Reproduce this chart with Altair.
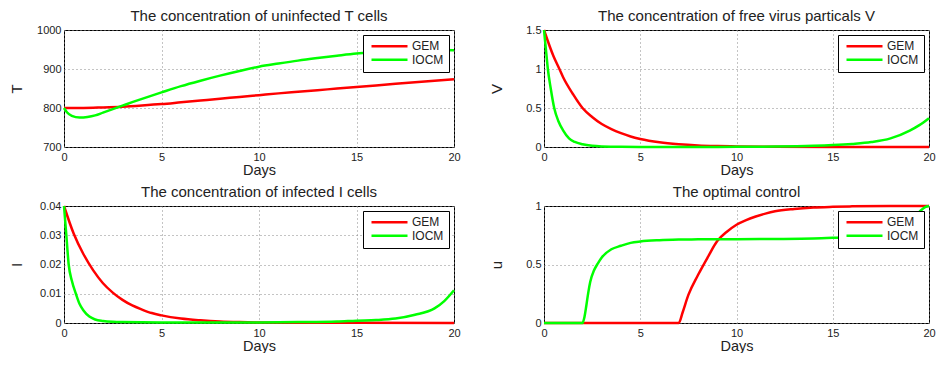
import altair as alt
import pandas as pd

FONT = "Liberation Sans"
DAY_TICKS = [0, 5, 10, 15, 20]
METHODS = ["GEM", "IOCM"]
COLORS = ["#ff0000", "#00ff00"]

# --- uninfected T cells ---
T_gem_t = [0, 1, 2, 3, 4, 5, 6, 7, 8, 9, 10, 11, 12, 13, 14, 15, 16, 17, 18, 19, 20]
T_gem = [800, 800, 801.5, 803.5, 806.5, 810, 814.5, 819, 823.5, 828.5, 833, 837.5, 841.5, 845.5, 850, 854, 858, 862, 866, 870, 874]
T_iocm_t = [0, 0.15, 0.4, 0.8, 1.2, 1.6, 2, 2.75, 3, 3.5, 4, 5, 6, 7, 8, 9, 10, 11, 12, 13, 14, 15, 16, 17, 18, 19, 20]
T_iocm = [800, 789, 780, 775.6, 777, 781, 788, 801.5, 806, 815, 823.5, 840, 856, 870, 883, 895, 906, 914, 921.5, 928, 934, 939.5, 943, 946, 948, 948.5, 948]

# --- free virus particles V ---
V_gem_t = [0, 0.5, 0.8, 1, 1.5, 2, 2.5, 3, 3.5, 4, 4.5, 5, 6, 7, 8, 9, 10, 12, 15, 20]
V_gem = [1.5, 1.16, 1.0, 0.89, 0.68, 0.5, 0.385, 0.295, 0.23, 0.178, 0.135, 0.103, 0.06, 0.035, 0.02, 0.012, 0.007, 0.0025, 0.0007, 0.0001]
V_iocm_t = [0, 0.1, 0.2, 0.35, 0.53, 0.75, 1, 1.3, 1.6, 2, 2.5, 3, 4, 6, 8, 10, 12, 14, 15, 16, 17, 18, 19, 19.5, 20]
V_iocm = [1.5, 1.25, 1.0, 0.75, 0.5, 0.33, 0.21, 0.11, 0.065, 0.035, 0.015, 0.007, 0.002, 0.001, 0.001, 0.002, 0.005, 0.015, 0.025, 0.04, 0.063, 0.11, 0.21, 0.28, 0.37]

# --- infected I cells ---
I_gem_t = [0, 0.5, 1, 1.5, 2, 2.5, 3, 3.5, 4, 4.5, 5, 6, 7, 8, 9, 10, 12, 15, 20]
I_gem = [0.04, 0.0305, 0.0235, 0.018, 0.0136, 0.0104, 0.0079, 0.006, 0.0046, 0.0034, 0.0026, 0.0015, 0.0009, 0.0005, 0.0003, 0.0002, 0.0001, 0.00005, 0]
I_iocm_t = [0, 0.12, 0.24, 0.4, 0.61, 0.8, 1, 1.3, 1.6, 2, 2.5, 3, 5, 10, 12, 14, 15, 16, 17, 18, 19, 19.5, 20]
I_iocm = [0.04, 0.03, 0.02, 0.0145, 0.01, 0.0065, 0.0043, 0.0022, 0.0012, 0.0007, 0.0004, 0.0003, 0.0002, 0.0002, 0.0003, 0.0005, 0.0008, 0.001, 0.0015, 0.0028, 0.005, 0.0075, 0.0112]

# --- optimal control u ---
u_gem_t = [0, 7, 7.2, 7.5, 8, 8.5, 9, 9.5, 10, 10.5, 11, 11.5, 12, 13, 14, 15, 16, 18, 20]
u_gem = [0, 0, 0.09, 0.24, 0.41, 0.56, 0.70, 0.78, 0.84, 0.88, 0.91, 0.935, 0.955, 0.975, 0.987, 0.993, 0.997, 1.0, 1.0]
u_iocm_t = [0, 2.0, 2.1, 2.2, 2.3, 2.4, 2.6, 2.8, 3, 3.5, 4, 4.5, 5, 6, 7, 8, 10, 12, 14, 15, 16, 17, 18, 18.5, 19, 19.5, 19.8, 20]
u_iocm = [0, 0, 0.05, 0.15, 0.26, 0.35, 0.45, 0.51, 0.56, 0.63, 0.66, 0.685, 0.697, 0.708, 0.713, 0.715, 0.716, 0.718, 0.722, 0.728, 0.736, 0.75, 0.78, 0.81, 0.86, 0.95, 0.99, 1.0]


def frame(gt, gv, it, iv):
    a = pd.DataFrame({"Days": gt, "val": gv, "Method": "GEM"})
    b = pd.DataFrame({"Days": it, "val": iv, "Method": "IOCM"})
    return pd.concat([a, b], ignore_index=True)


def panel(title, ylab, df, ydom, yticks, w):
    return (
        alt.Chart(df, title=alt.TitleParams(title, offset=0))
        .mark_line(strokeWidth=2.5, interpolate="monotone")
        .encode(
            x=alt.X("Days:Q", scale=alt.Scale(domain=[0, 20], nice=False, zero=False),
                    axis=alt.Axis(values=DAY_TICKS, title="Days")),
            y=alt.Y("val:Q", scale=alt.Scale(domain=ydom, nice=False, zero=False),
                    axis=alt.Axis(values=yticks, title=ylab, labelExpr="'' + datum.value")),
            color=alt.Color("Method:N", scale=alt.Scale(domain=METHODS, range=COLORS),
                            legend=alt.Legend(title=None, orient="top-right", offset=5)),
        )
        .properties(width=w, height=117)
    )


p1 = panel("The concentration of uninfected T cells", "T",
           frame(T_gem_t, T_gem, T_iocm_t, T_iocm), [700, 1000], [700, 800, 900, 1000], 390)
p2 = panel("The concentration of free virus particals V", "V",
           frame(V_gem_t, V_gem, V_iocm_t, V_iocm), [0, 1.5], [0, 0.5, 1, 1.5], 385)
p3 = panel("The concentration of infected I cells", "I",
           frame(I_gem_t, I_gem, I_iocm_t, I_iocm), [0, 0.04], [0, 0.01, 0.02, 0.03, 0.04], 390)
p4 = panel("The optimal control", "u",
           frame(u_gem_t, u_gem, u_iocm_t, u_iocm), [0, 1], [0, 0.5, 1], 385)

chart = (
    alt.concat(p1, p2, p3, p4, columns=2, spacing={"row": 7, "column": 27})
    .resolve_scale(color="independent")
    .properties(padding=0)
    .configure(font=FONT)
    .configure_view(stroke="black", strokeWidth=1)
    .configure_title(fontSize=15, fontWeight="normal", color="#222222", font=FONT)
    .configure_axis(
        labelFont=FONT, titleFont=FONT, labelFontSize=11, titleFontSize=15,
        labelColor="#222222", titleColor="#222222", titleFontWeight="normal",
        ticks=False, domain=False, labelFlush=False,
        grid=True, gridColor="#888888", gridDash=[1, 3], gridOpacity=1, gridWidth=1,
    )
    .configure_axisX(labelPadding=4, titlePadding=1, titleFontSize=14.5)
    .configure_axisY(labelPadding=3, titlePadding=6, minExtent=34, maxExtent=34)
    .configure_legend(
        fillColor="white", strokeColor="black", padding=5,
        symbolType="stroke", symbolSize=1296, symbolStrokeWidth=2.5, clipHeight=12.6,
        labelFontSize=12, labelFont=FONT, labelColor="#222222",
        labelOffset=3, symbolOffset=2, rowPadding=0.5,
    )
)

chart.save("out.html", embed_options={"renderer": "svg", "actions": False})
